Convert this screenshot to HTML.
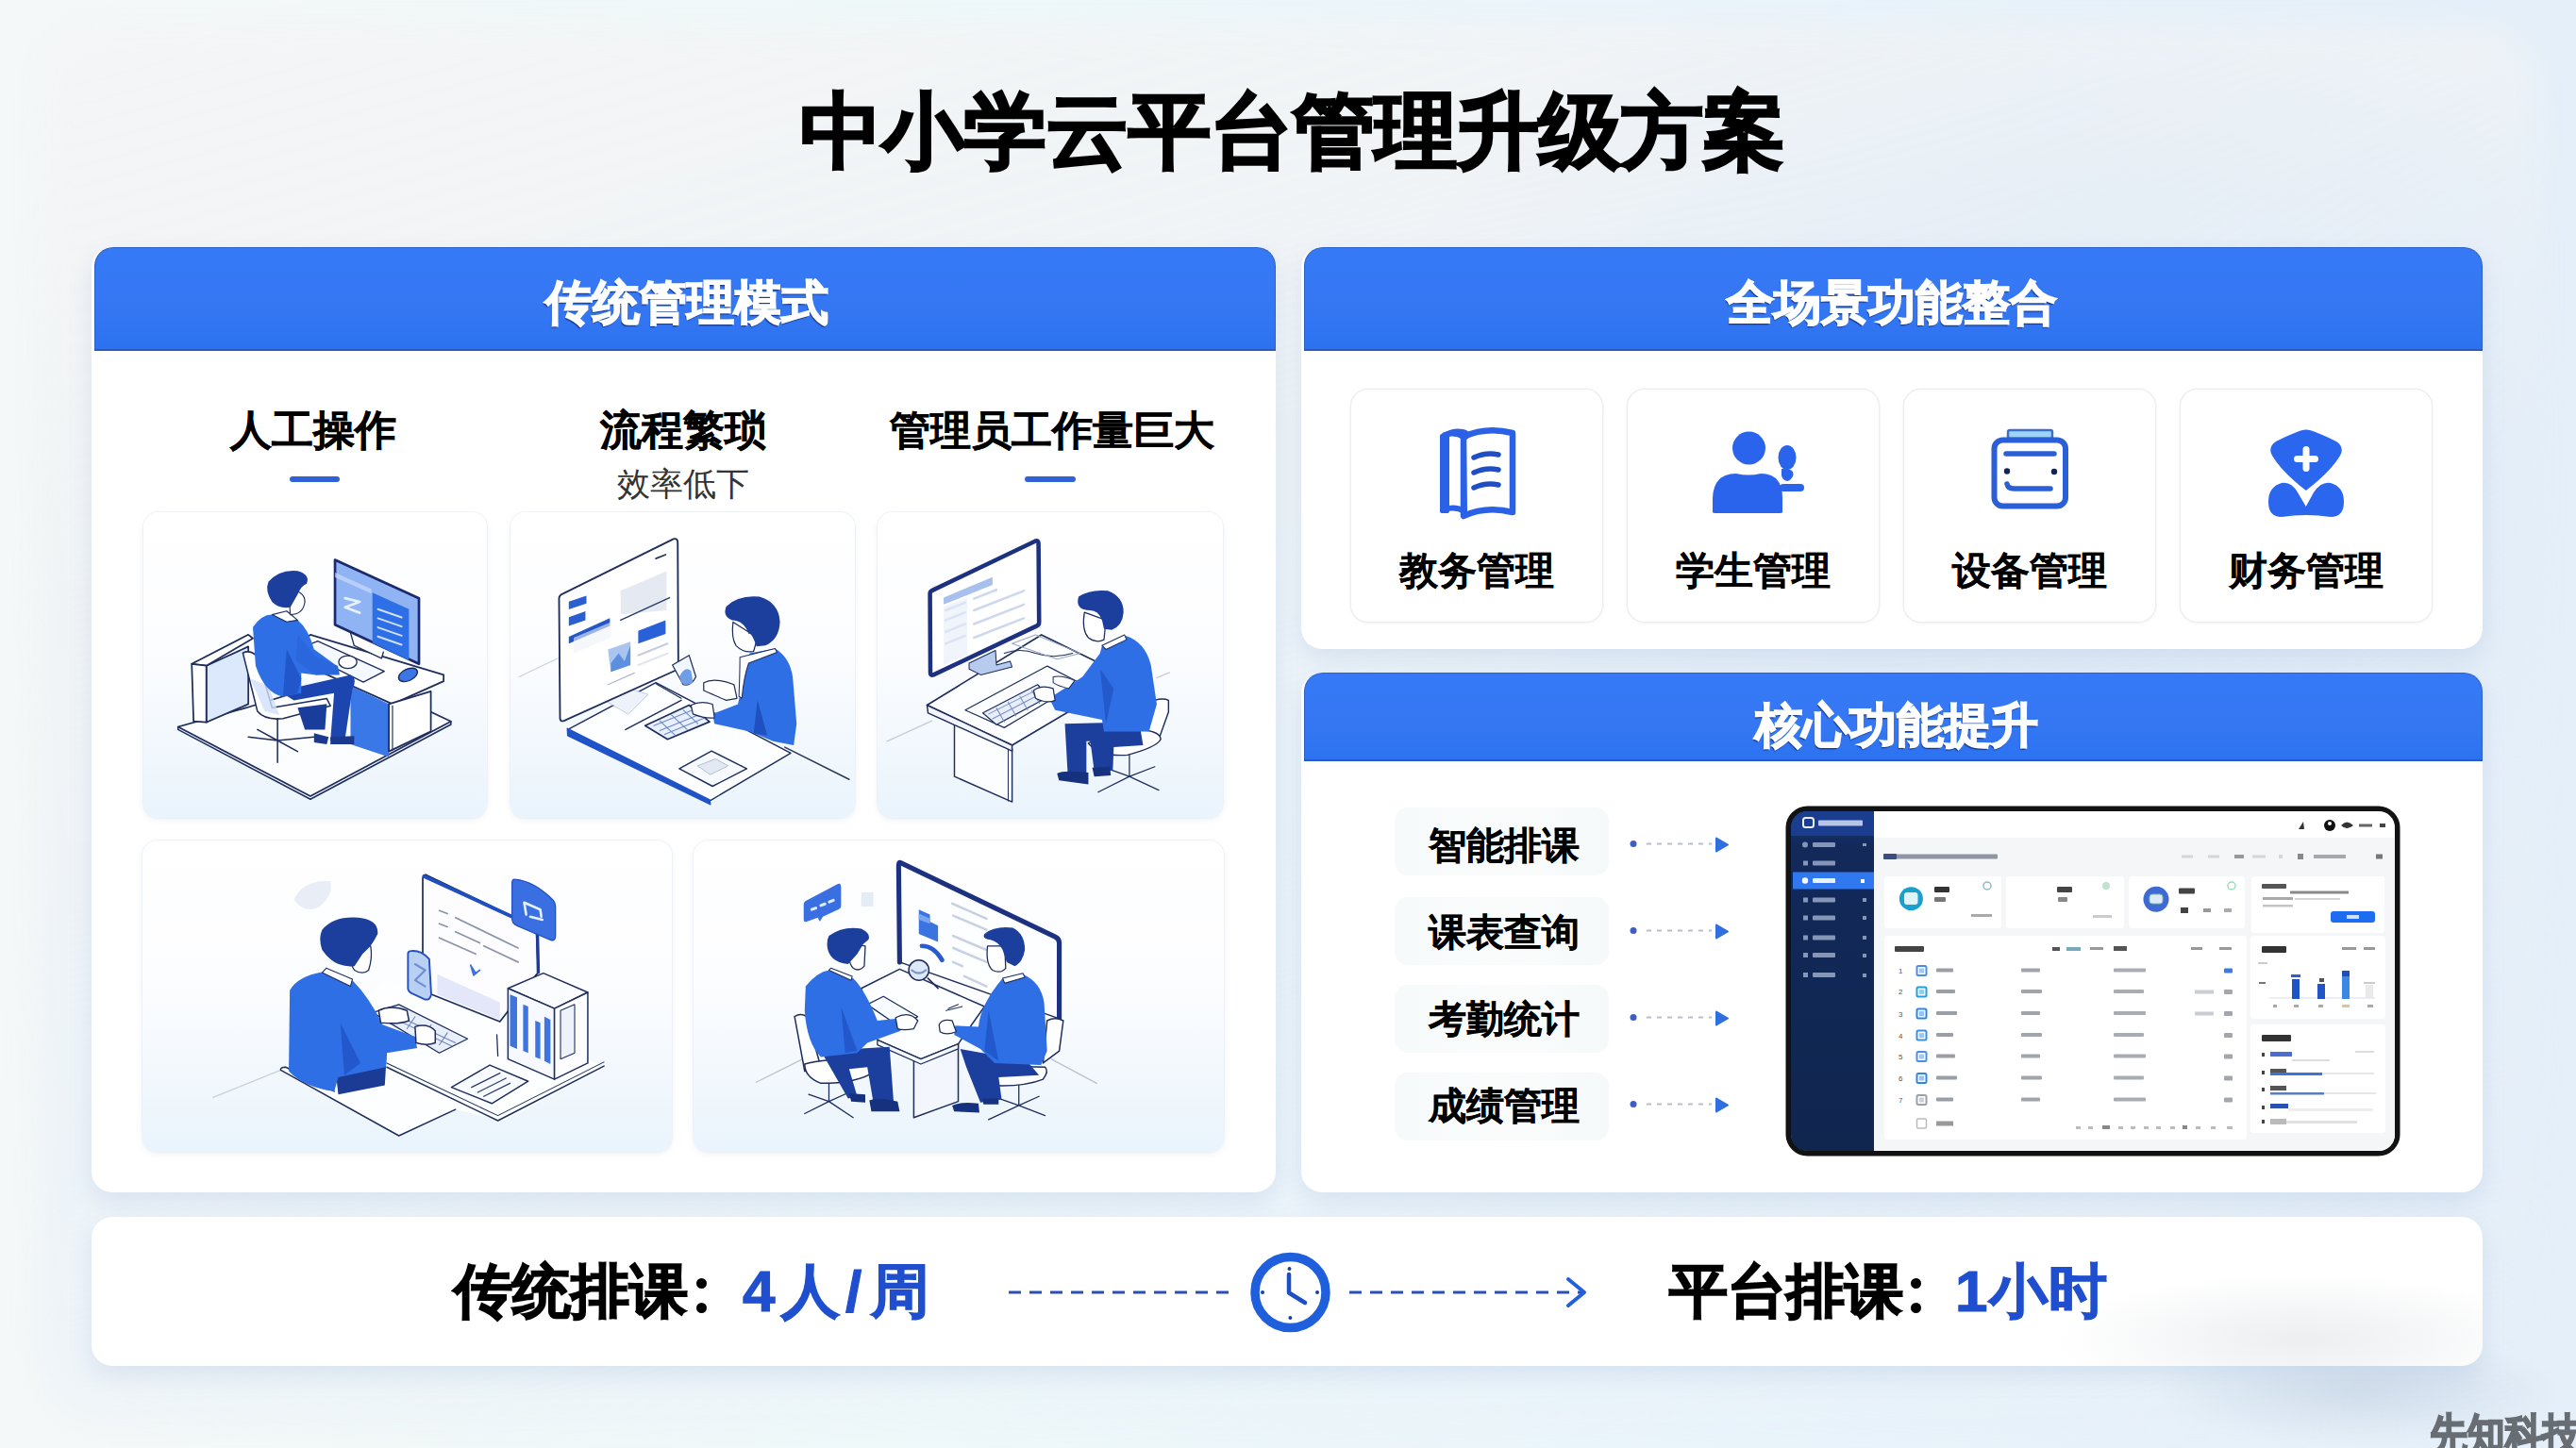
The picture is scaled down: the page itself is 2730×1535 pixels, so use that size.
<!DOCTYPE html>
<html><head><meta charset="utf-8">
<style>
*{margin:0;padding:0;box-sizing:border-box}
html,body{width:2730px;height:1535px;overflow:hidden}
body{position:relative;font-family:"Liberation Sans",sans-serif;
 background:linear-gradient(90deg,#f5f8f8 0%,#eef8fa 40%,#e9f3fa 70%,#e5eff9 100%);}
.slide{position:absolute;left:40px;top:26px;width:2652px;height:1484px;border-radius:70px;filter:blur(14px);
 background:
  radial-gradient(ellipse 1100px 800px at 2150px 450px, rgba(205,222,244,0.35), rgba(205,222,244,0) 70%),
  linear-gradient(165deg,rgba(244,245,246,1) 0%,rgba(240,243,245,0.9) 25%,rgba(232,240,248,0.6) 55%,rgba(229,238,248,0) 100%);}
.abs{position:absolute}
.panel{position:absolute;background:#fff;border-radius:22px;box-shadow:0 10px 24px rgba(120,150,200,0.18)}
.hdr{position:absolute;left:3px;right:0;top:0;border-radius:20px 20px 0 0;border:1.5px solid #2c62c8;border-bottom:2px solid #285cc0;
 background:linear-gradient(180deg,#3679f6 0%,#3577f3 60%,#2c72f0 100%);
 color:#fff;font-weight:700;text-align:center;-webkit-text-stroke:1.6px #fff;text-shadow:-1px 2px 1px rgba(15,35,100,0.75)}
.t{position:absolute;white-space:nowrap;line-height:1}
.card{position:absolute;border-radius:16px;background:linear-gradient(180deg,#ffffff 0%,#fcfdff 45%,#eaf4fc 100%);
 box-shadow:0 0 0 1px rgba(232,235,240,0.55), 0 2px 6px rgba(185,198,215,0.28)}
.fcard{position:absolute;border-radius:18px;background:#fff;box-shadow:0 0 0 1.5px rgba(236,237,240,0.95),0 2px 4px rgba(200,205,215,0.18)}
.pill{position:absolute;border-radius:14px;background:linear-gradient(90deg,#f7fafb,#fafcfc 60%,#f5f9fa)}
</style></head><body>

<div class="slide"></div>
<!-- title -->
<div class="t" style="left:5px;width:2730px;text-align:center;top:96px;font-size:86.8px;font-weight:700;color:#000;-webkit-text-stroke:2.6px #000">中小学云平台管理升级方案</div>

<!-- left panel -->
<div class="panel" style="left:97px;top:262px;width:1255px;height:1002px">
  <div class="hdr" style="height:110px;font-size:50px;line-height:116px;padding-left:3px">传统管理模式</div>
</div>

<!-- right top panel -->
<div class="panel" style="left:1379px;top:262px;width:1252px;height:426px">
  <div class="hdr" style="height:110px;font-size:50px;line-height:116px;padding-right:4px">全场景功能整合</div>
</div>

<!-- right bottom panel -->
<div class="panel" style="left:1379px;top:713px;width:1252px;height:551px">
  <div class="hdr" style="height:94px;font-size:50px;line-height:110px;padding-left:6px">核心功能提升</div>
</div>

<!-- bottom bar -->
<div class="abs" style="left:2280px;top:1420px;width:440px;height:110px;border-radius:50%;background:radial-gradient(ellipse at center, rgba(190,205,222,0.55), rgba(190,205,222,0) 70%);filter:blur(6px)"></div>
<div class="panel" style="left:97px;top:1290px;width:2534px;height:158px;background:radial-gradient(ellipse 260px 70px at 2440px 1420px, rgba(236,238,240,1), rgba(255,255,255,0) 100%) no-repeat, #fff;background-position:-97px -1290px, 0 0;background-size:2730px 1535px, auto"></div>


<!-- left panel content -->
<div class="t" style="left:232px;width:200px;text-align:center;top:434px;font-size:44px;font-weight:700;-webkit-text-stroke:0.4px #000">人工操作</div>
<div class="abs" style="left:307px;top:505px;width:53px;height:6px;border-radius:3px;background:#2f62d6"></div>
<div class="t" style="left:574px;width:300px;text-align:center;top:434px;font-size:44px;font-weight:700;-webkit-text-stroke:0.4px #000">流程繁琐</div>
<div class="t" style="left:574px;width:300px;text-align:center;top:495px;font-size:35px;color:#333">效率低下</div>
<div class="t" style="left:912px;width:400px;text-align:center;top:435px;font-size:43px;font-weight:700;-webkit-text-stroke:0.4px #000;padding-left:6px">管理员工作量巨大</div>
<div class="abs" style="left:1086px;top:505px;width:54px;height:6px;border-radius:3px;background:#2f62d6"></div>

<div class="card" style="left:152px;top:543px;width:364px;height:324px"></div>
<div class="card" style="left:541px;top:543px;width:365px;height:324px"></div>
<div class="card" style="left:930px;top:543px;width:366px;height:324px"></div>
<div class="card" style="left:151px;top:891px;width:561px;height:330px"></div>
<div class="card" style="left:735px;top:891px;width:562px;height:330px"></div>

<!-- right top cards -->
<div class="fcard" style="left:1432px;top:413px;width:266px;height:246px"></div>
<div class="fcard" style="left:1725px;top:413px;width:266px;height:246px"></div>
<div class="fcard" style="left:2018px;top:413px;width:266px;height:246px"></div>
<div class="fcard" style="left:2311px;top:413px;width:266px;height:246px"></div>
<div class="t" style="left:1432px;width:266px;text-align:center;top:585px;font-size:41px;font-weight:700;-webkit-text-stroke:0.1px #000">教务管理</div>
<div class="t" style="left:1725px;width:266px;text-align:center;top:585px;font-size:41px;font-weight:700;-webkit-text-stroke:0.1px #000">学生管理</div>
<div class="t" style="left:2018px;width:266px;text-align:center;top:585px;font-size:41px;font-weight:700;-webkit-text-stroke:0.1px #000">设备管理</div>
<div class="t" style="left:2311px;width:266px;text-align:center;top:585px;font-size:41px;font-weight:700;-webkit-text-stroke:0.1px #000">财务管理</div>

<!-- pills -->
<div class="pill" style="left:1478px;top:856px;width:227px;height:72px"></div>
<div class="pill" style="left:1478px;top:951px;width:227px;height:72px"></div>
<div class="pill" style="left:1478px;top:1044px;width:227px;height:72px"></div>
<div class="pill" style="left:1478px;top:1137px;width:227px;height:72px"></div>
<div class="t" style="left:1478px;width:227px;text-align:center;top:876px;font-size:40px;font-weight:700;-webkit-text-stroke:0.35px #000;padding-left:4px">智能排课</div>
<div class="t" style="left:1478px;width:227px;text-align:center;top:968px;font-size:40px;font-weight:700;-webkit-text-stroke:0.35px #000;padding-left:4px">课表查询</div>
<div class="t" style="left:1478px;width:227px;text-align:center;top:1060px;font-size:40px;font-weight:700;-webkit-text-stroke:0.35px #000;padding-left:4px">考勤统计</div>
<div class="t" style="left:1478px;width:227px;text-align:center;top:1152px;font-size:40px;font-weight:700;-webkit-text-stroke:0.35px #000;padding-left:4px">成绩管理</div>

<!-- bottom bar content -->
<div class="t" style="left:481px;top:1338px;font-size:62px;font-weight:700;-webkit-text-stroke:1.6px #000">传统排课</div>
<div class="abs" style="left:738px;top:1355px;width:11px;height:11px;border-radius:50%;background:#000"></div>
<div class="abs" style="left:738px;top:1381px;width:11px;height:11px;border-radius:50%;background:#000"></div>
<div class="t" id="g4" style="left:787px;top:1338px;font-size:62px;font-weight:700;color:#1f4fcf;-webkit-text-stroke:1.2px #1f4fcf">4</div>
<div class="t" id="gren" style="left:828px;top:1338px;font-size:62px;font-weight:700;color:#1f4fcf;-webkit-text-stroke:1.2px #1f4fcf">人</div>
<div class="t" id="gsl" style="left:896px;top:1338px;font-size:62px;font-weight:700;color:#1f4fcf;-webkit-text-stroke:1.2px #1f4fcf">/</div>
<div class="t" id="gzhou" style="left:923px;top:1338px;font-size:62px;font-weight:700;color:#1f4fcf;-webkit-text-stroke:1.2px #1f4fcf">周</div>
<div class="t" style="left:1769px;top:1338px;font-size:62px;font-weight:700;-webkit-text-stroke:1.6px #000">平台排课</div>
<div class="abs" style="left:2025px;top:1355px;width:11px;height:11px;border-radius:50%;background:#000"></div>
<div class="abs" style="left:2025px;top:1381px;width:11px;height:11px;border-radius:50%;background:#000"></div>
<div class="t" id="g1" style="left:2072px;top:1338px;font-size:62px;font-weight:700;color:#1f4fcf;-webkit-text-stroke:1.2px #1f4fcf">1</div>
<div class="t" id="gxiao" style="left:2108px;top:1338px;font-size:62px;font-weight:700;color:#1f4fcf;-webkit-text-stroke:1.2px #1f4fcf">小</div>
<div class="t" id="gshi" style="left:2171px;top:1338px;font-size:62px;font-weight:700;color:#1f4fcf;-webkit-text-stroke:1.2px #1f4fcf">时</div>
<div class="t" style="left:2575px;top:1497px;font-size:40px;font-weight:700;color:#676d73;-webkit-text-stroke:1.6px #676d73;transform:scaleY(1.18);transform-origin:0 0;letter-spacing:0px">先知科技</div>

<!-- clock + dashed lines -->
<svg class="abs" style="left:1050px;top:1310px" width="660" height="120" viewBox="1050 1310 660 120">
  <line x1="1069" y1="1370" x2="1302" y2="1370" stroke="#2b50b5" stroke-width="3.2" stroke-dasharray="13 9"/>
  <line x1="1430" y1="1370" x2="1676" y2="1370" stroke="#2b50b5" stroke-width="3.2" stroke-dasharray="13 9"/>
  <path d="M1662 1356 L1679 1370 L1662 1384" fill="none" stroke="#2160dd" stroke-width="4" stroke-linecap="round" stroke-linejoin="round"/>
  <circle cx="1367.5" cy="1370" r="37.5" fill="#fff" stroke="#1f5fdc" stroke-width="9.5"/>
  <path d="M1366 1351 L1366 1370.5 L1383 1381" fill="none" stroke="#1d4fc4" stroke-width="4.5" stroke-linecap="round" stroke-linejoin="round"/>
  <circle cx="1366.5" cy="1345" r="2" fill="#1b3f9a"/><circle cx="1367.4" cy="1397" r="2" fill="#1b3f9a"/>
  <circle cx="1338" cy="1370" r="2" fill="#1b3f9a"/><circle cx="1396" cy="1370" r="2" fill="#1b3f9a"/>
</svg>

<!-- pill arrows -->
<svg class="abs" style="left:1720px;top:870px" width="130" height="320" viewBox="1720 870 130 320">
  <g id="arr">
   <circle cx="1731" cy="894.5" r="3.5" fill="#3d5fc0"/>
   <line x1="1745" y1="894.5" x2="1814" y2="894.5" stroke="#b8bfcb" stroke-width="2" stroke-dasharray="5 6"/>
   <path d="M1819 888.5 L1831 895.5 L1819 902.5 Z" fill="#2f6fe0" stroke="#2f6fe0" stroke-width="2" stroke-linejoin="round"/>
  </g>
  <use href="#arr" y="92"/><use href="#arr" y="184"/><use href="#arr" y="276"/>
</svg>

<!-- feature icons -->
<svg class="abs" style="left:1400px;top:440px" width="1200" height="120" viewBox="1400 440 1200 120">
  <!-- book -->
  <g fill="none" stroke="#2a61e6" stroke-linejoin="round" stroke-linecap="round">
    <path d="M1531 462 Q1540 456 1550 458 Q1558 460 1552 464" stroke-width="6"/>
    <rect x="1526" y="460" width="10" height="84" fill="#2a61e6" stroke="none" rx="2"/>
    <path d="M1531 461 Q1542 457 1551 463 L1552 542 Q1542 536 1531 540" stroke-width="6"/>
    <path d="M1551 463 Q1575 452 1603 459 L1603 543 Q1575 536 1551 547 Z" stroke-width="6.5"/>
    <path d="M1562 485 Q1575 479 1588 482 M1562 501 Q1575 495 1588 498 M1562 517 Q1575 511 1588 514" stroke="#1f4fc7" stroke-width="5.5"/>
  </g>
  <!-- person -->
  <g fill="#2a63ec">
    <circle cx="1853.5" cy="475" r="17.5"/>
    <path d="M1815 543 L1815 528 Q1816 502 1840 502 Q1853 505 1866 502 Q1889 502 1889 528 L1889 543 Q1889 544 1886 544 L1818 544 Q1815 544 1815 543 Z"/>
    <ellipse cx="1894" cy="485" rx="9.5" ry="13"/>
    <path d="M1888 497 Q1903 496 1900 505 Q1897 510 1894 510 Q1889 509 1888 504 Z"/>
    <rect x="1886" y="513" width="26" height="8" rx="4"/>
  </g>
  <!-- device -->
  <g fill="none" stroke="#2a5fd8" stroke-linecap="round">
    <rect x="2128" y="456" width="47" height="9" fill="#9ed4f7" stroke="#3b6fd0" stroke-width="2.5" rx="2"/>
    <rect x="2113.5" y="466.5" width="75.5" height="70" rx="9" stroke-width="6"/>
    <line x1="2126" y1="481" x2="2177" y2="481" stroke-width="5.5"/>
    <path d="M2127 513 Q2128 518 2134 518 L2173 518" stroke-width="5.5"/>
    <circle cx="2127" cy="499.5" r="3.2" fill="#13245a" stroke="none"/>
    <circle cx="2177" cy="500" r="3.2" fill="#13245a" stroke="none"/>
  </g>
  <!-- finance -->
  <g fill="#2b66ee">
    <path d="M2443.8 455.5 Q2450 455 2476 468 Q2485 474 2480 483 Q2470 500 2443.8 520 Q2418 500 2408 483 Q2403 474 2412 468 Q2438 455 2443.8 455.5 Z"/>
    <path d="M2418 512 Q2428 510 2435 522 L2443.8 537 L2452 522 Q2460 510 2470 512 Q2484 516 2484 532 Q2484 548 2470 548 Q2443.8 544 2418 548 Q2404 548 2404 532 Q2404 516 2418 512 Z"/>
    <rect x="2440.5" y="473" width="7" height="27" rx="3.5" fill="#fff"/>
    <rect x="2431" y="483" width="26" height="7" rx="3.5" fill="#fff"/>
  </g>
</svg>

<!-- dashboard -->
<svg class="abs" style="left:1885px;top:848px" width="665" height="385" viewBox="1885 848 665 385">
 <defs>
  <clipPath id="scr"><rect x="1898" y="860" width="640" height="360" rx="17"/></clipPath>
  <linearGradient id="sbg" x1="0" y1="0" x2="0" y2="1"><stop offset="0" stop-color="#173777"/><stop offset="0.1" stop-color="#12295a"/><stop offset="1" stop-color="#10264f"/></linearGradient>
 </defs>
 <rect x="1895.5" y="857.5" width="645" height="365" rx="20" fill="#fff" stroke="#121212" stroke-width="6"/>
 <g clip-path="url(#scr)">
  <rect x="1898" y="860" width="88" height="362" fill="url(#sbg)"/>
  <rect x="1898" y="860" width="88" height="26" fill="#1a3d8e"/>
  <rect x="1911" y="867" width="11" height="10" rx="2.5" fill="none" stroke="#e8efff" stroke-width="2"/>
  <rect x="1927" y="869.5" width="47" height="6" rx="1" fill="#dfe8ff" opacity="0.8"/>
  <rect x="1900" y="924.5" width="86" height="18" fill="#2f78ef"/>
  <g fill="#aebbd8" opacity="0.75">
   <circle cx="1913" cy="895.5" r="3"/><rect x="1921" y="893" width="24" height="5" rx="1"/><rect x="1974" y="894" width="4" height="3"/>
   <rect x="1911" y="912.5" width="5" height="5"/><rect x="1921" y="912.5" width="24" height="5" rx="1"/>
   <rect x="1911" y="951.5" width="5" height="5"/><rect x="1921" y="951.5" width="24" height="5" rx="1"/><rect x="1974" y="952" width="4" height="4"/>
   <rect x="1911" y="970.5" width="5" height="5"/><rect x="1921" y="970.5" width="24" height="5" rx="1"/><rect x="1974" y="971" width="4" height="4"/>
   <rect x="1911" y="991.5" width="5" height="5"/><rect x="1921" y="991.5" width="24" height="5" rx="1"/><rect x="1974" y="992" width="4" height="4"/>
   <rect x="1911" y="1010" width="5" height="5"/><rect x="1921" y="1010" width="24" height="5" rx="1"/><rect x="1974" y="1011" width="4" height="4"/>
   <rect x="1911" y="1031" width="5" height="5"/><rect x="1921" y="1031" width="24" height="5" rx="1"/><rect x="1974" y="1032" width="4" height="4"/>
  </g>
  <g fill="#ffffff"><circle cx="1913" cy="933.5" r="3.2"/><rect x="1921" y="931" width="24" height="5" rx="1" opacity="0.9"/><rect x="1972" y="932" width="4" height="4"/></g>
  <!-- main -->
  <rect x="1986" y="860" width="555" height="362" fill="#ffffff"/>
  <rect x="1986" y="888" width="555" height="334" fill="#f5f6f8"/>
  <!-- top icons -->
  <path d="M2436 879 L2441 871 L2442 879 Z" fill="#333"/>
  <circle cx="2469" cy="875" r="6" fill="#111"/><circle cx="2469" cy="873" r="2" fill="#fff"/>
  <path d="M2481 875 Q2487 868 2494 875 Q2487 881 2481 875 Z" fill="#333"/>
  <rect x="2500" y="873.5" width="14" height="3" fill="#666"/><rect x="2522" y="873" width="6" height="4" fill="#444"/>
  <!-- breadcrumb -->
  <rect x="1996" y="905.5" width="121" height="5" rx="1" fill="#7d8594" opacity="0.85"/>
  <rect x="1996" y="905" width="14" height="6" rx="1" fill="#3b4e80"/>
  <g fill="#d3d6da"><rect x="2312" y="906.5" width="12" height="3"/><rect x="2340" y="906.5" width="12" height="3"/><rect x="2368" y="906" width="10" height="4" fill="#999"/><rect x="2387" y="906.5" width="14" height="3"/><rect x="2415" y="906" width="4" height="4"/><rect x="2435" y="905" width="6" height="6" fill="#888"/><rect x="2452" y="906" width="34" height="4" fill="#a5a8ad"/><rect x="2518" y="905.5" width="7" height="5" fill="#777"/></g>
  <!-- stat cards -->
  <rect x="1997" y="929" width="124" height="55" rx="3" fill="#fff"/>
  <rect x="2126" y="929" width="125" height="55" rx="3" fill="#fff"/>
  <rect x="2256" y="929" width="123" height="55" rx="3" fill="#fff"/>
  <rect x="2386" y="929" width="141" height="60" rx="3" fill="#fff"/>
  <circle cx="2025.4" cy="952.7" r="12.5" fill="#1aa0cf"/><rect x="2018" y="946" width="14.5" height="13" rx="3" fill="#dff3fb"/>
  <rect x="2050" y="940" width="16" height="6" rx="1" fill="#333"/><rect x="2050" y="951" width="12" height="5" rx="1" fill="#777"/>
  <rect x="2089" y="969" width="22" height="3" fill="#aaa"/><circle cx="2106" cy="939" r="4" fill="none" stroke="#8fb8c8" stroke-width="1.5"/>
  <rect x="2180" y="940" width="16" height="6" rx="1" fill="#444"/><rect x="2181" y="951" width="10" height="5" rx="1" fill="#888"/>
  <rect x="2218" y="970" width="20" height="3" fill="#ccc"/><circle cx="2232" cy="939" r="4" fill="#bfe3d0"/>
  <circle cx="2285" cy="953.3" r="13.5" fill="#3f69d3"/><rect x="2278" y="948" width="14" height="10" rx="3" fill="#dce9f8" stroke="#7fbf9f" stroke-width="1"/>
  <rect x="2309" y="941.5" width="17" height="6" rx="1" fill="#444"/>
  <rect x="2311" y="962" width="8" height="6" fill="#444"/><rect x="2335" y="963" width="8" height="4" fill="#999"/><rect x="2357" y="963" width="8" height="4" fill="#aaa"/>
  <circle cx="2365" cy="939" r="4" fill="none" stroke="#9db" stroke-width="1.5"/>
  <rect x="2397" y="937" width="26" height="5" rx="1" fill="#555"/>
  <rect x="2427" y="944.5" width="62" height="3" fill="#8a8a8a"/><rect x="2398" y="951" width="32" height="3" fill="#aaa"/><rect x="2432" y="952" width="48" height="2" fill="#d5d5d5"/><rect x="2398" y="959" width="32" height="2.5" fill="#c5c5c5"/>
  <rect x="2470" y="966" width="47" height="12" rx="3" fill="#1e6cf0"/><rect x="2487" y="970" width="13" height="4" fill="#cfe0ff"/>
  <!-- table -->
  <rect x="1997" y="992" width="384" height="216" rx="3" fill="#fff"/>
  <rect x="2008" y="1003" width="31" height="6" rx="1" fill="#444"/>
  <g fill="#999"><rect x="2175" y="1004" width="8" height="4" fill="#555"/><rect x="2190" y="1004" width="15" height="4" fill="#7ab"/><rect x="2215" y="1004" width="14" height="3"/><rect x="2240" y="1003" width="14" height="5" fill="#555"/><rect x="2322" y="1004" width="12" height="3"/><rect x="2352" y="1004" width="13" height="3"/></g>
  <text x="2012" y="1032" font-size="8" fill="#555">1</text><rect x="2031.5" y="1024" width="10" height="10" rx="1.5" fill="none" stroke="#4a8de8" stroke-width="2"/><rect x="2034" y="1026.5" width="5" height="5" fill="#4a8de8" opacity="0.5"/><rect x="2052" y="1026.5" width="18" height="4" rx="1" fill="#9a9ea6"/><rect x="2142" y="1026.5" width="20" height="4" rx="1" fill="#a0a4ab"/><rect x="2240" y="1026.5" width="34" height="4" rx="1" fill="#a9adb3"/><rect x="2357" y="1026.5" width="9" height="5" rx="1" fill="#3d7be0"/><text x="2012" y="1054.4" font-size="8" fill="#555">2</text><rect x="2031.5" y="1046.4" width="10" height="10" rx="1.5" fill="none" stroke="#1f9fe0" stroke-width="2"/><rect x="2034" y="1048.9" width="5" height="5" fill="#1f9fe0" opacity="0.5"/><rect x="2052" y="1048.9" width="20" height="4" rx="1" fill="#9a9ea6"/><rect x="2142" y="1048.9" width="22" height="4" rx="1" fill="#a0a4ab"/><rect x="2240" y="1048.9" width="32" height="4" rx="1" fill="#a9adb3"/><rect x="2357" y="1048.9" width="9" height="5" rx="1" fill="#a3a7ad"/><rect x="2326" y="1049.4" width="20" height="4" rx="1" fill="#c9ccd1"/><text x="2012" y="1077.6" font-size="8" fill="#555">3</text><rect x="2031.5" y="1069.6" width="10" height="10" rx="1.5" fill="none" stroke="#2d86e6" stroke-width="2"/><rect x="2034" y="1072.1" width="5" height="5" fill="#2d86e6" opacity="0.5"/><rect x="2052" y="1072.1" width="22" height="4" rx="1" fill="#9a9ea6"/><rect x="2142" y="1072.1" width="20" height="4" rx="1" fill="#a0a4ab"/><rect x="2240" y="1072.1" width="34" height="4" rx="1" fill="#a9adb3"/><rect x="2357" y="1072.1" width="9" height="5" rx="1" fill="#a3a7ad"/><rect x="2326" y="1072.6" width="20" height="4" rx="1" fill="#c9ccd1"/><text x="2012" y="1100.6" font-size="8" fill="#555">4</text><rect x="2031.5" y="1092.6" width="10" height="10" rx="1.5" fill="none" stroke="#3b8fe8" stroke-width="2"/><rect x="2034" y="1095.1" width="5" height="5" fill="#3b8fe8" opacity="0.5"/><rect x="2052" y="1095.1" width="18" height="4" rx="1" fill="#9a9ea6"/><rect x="2142" y="1095.1" width="22" height="4" rx="1" fill="#a0a4ab"/><rect x="2240" y="1095.1" width="32" height="4" rx="1" fill="#a9adb3"/><rect x="2357" y="1095.1" width="9" height="5" rx="1" fill="#a3a7ad"/><text x="2012" y="1123" font-size="8" fill="#555">5</text><rect x="2031.5" y="1115" width="10" height="10" rx="1.5" fill="none" stroke="#4a90ea" stroke-width="2"/><rect x="2034" y="1117.5" width="5" height="5" fill="#4a90ea" opacity="0.5"/><rect x="2052" y="1117.5" width="20" height="4" rx="1" fill="#9a9ea6"/><rect x="2142" y="1117.5" width="20" height="4" rx="1" fill="#a0a4ab"/><rect x="2240" y="1117.5" width="34" height="4" rx="1" fill="#a9adb3"/><rect x="2357" y="1117.5" width="9" height="5" rx="1" fill="#a3a7ad"/><text x="2012" y="1146" font-size="8" fill="#555">6</text><rect x="2031.5" y="1138" width="10" height="10" rx="1.5" fill="none" stroke="#2f86e4" stroke-width="2"/><rect x="2034" y="1140.5" width="5" height="5" fill="#2f86e4" opacity="0.5"/><rect x="2052" y="1140.5" width="22" height="4" rx="1" fill="#9a9ea6"/><rect x="2142" y="1140.5" width="22" height="4" rx="1" fill="#a0a4ab"/><rect x="2240" y="1140.5" width="32" height="4" rx="1" fill="#a9adb3"/><rect x="2357" y="1140.5" width="9" height="5" rx="1" fill="#a3a7ad"/><text x="2012" y="1169" font-size="8" fill="#555">7</text><rect x="2031.5" y="1161" width="10" height="10" rx="1.5" fill="none" stroke="#9aa0a8" stroke-width="2"/><rect x="2034" y="1163.5" width="5" height="5" fill="#9aa0a8" opacity="0.5"/><rect x="2052" y="1163.5" width="18" height="4" rx="1" fill="#9a9ea6"/><rect x="2142" y="1163.5" width="20" height="4" rx="1" fill="#a0a4ab"/><rect x="2240" y="1163.5" width="34" height="4" rx="1" fill="#a9adb3"/><rect x="2357" y="1163.5" width="9" height="5" rx="1" fill="#a3a7ad"/>
  <rect x="2031.5" y="1186" width="10" height="10" rx="1.5" fill="none" stroke="#bbb" stroke-width="1.5"/><rect x="2052" y="1188.5" width="18" height="5" fill="#999"/>
  <g fill="#bbb"><rect x="2200" y="1194" width="5" height="3"/><rect x="2213" y="1194" width="5" height="3"/><rect x="2228" y="1193" width="8" height="4" fill="#888"/><rect x="2245" y="1194" width="5" height="3"/><rect x="2258" y="1194" width="5" height="3"/><rect x="2272" y="1194" width="5" height="3"/><rect x="2285" y="1194" width="5" height="3"/><rect x="2300" y="1194" width="5" height="3"/><rect x="2313" y="1193" width="5" height="4" fill="#888"/><rect x="2327" y="1194" width="5" height="3"/><rect x="2343" y="1194" width="5" height="3"/><rect x="2360" y="1194" width="6" height="3"/></g>
  <!-- chart card -->
  <rect x="2385" y="992" width="143" height="88" rx="3" fill="#fff"/>
  <rect x="2397" y="1003" width="26" height="7" rx="1" fill="#333"/>
  <rect x="2482" y="1004" width="15" height="3" fill="#999"/><rect x="2505" y="1004" width="12" height="3" fill="#999"/>
  <rect x="2393" y="1020" width="10" height="2" fill="#ccc"/>
  <line x1="2405" y1="1058" x2="2517" y2="1058" stroke="#d8dde6" stroke-width="1.2"/>
  <rect x="2394" y="1041" width="7" height="2" fill="#777"/>
  <rect x="2429" y="1038" width="8" height="21" fill="#2052c7"/><rect x="2428" y="1033" width="10" height="3" fill="#2f5fcf"/>
  <rect x="2456" y="1043" width="8" height="16" fill="#2353c8"/><rect x="2458" y="1037" width="5" height="4" fill="#555"/>
  <rect x="2482" y="1029" width="8" height="30" fill="#3c86e6"/><rect x="2482" y="1029" width="8" height="6" fill="#1d4fba"/>
  <rect x="2507" y="1044" width="8" height="14" fill="#e8eaee"/><rect x="2505" y="1041" width="12" height="2" fill="#ccc"/>
  <g fill="#aaa"><rect x="2409" y="1065" width="4" height="3"/><rect x="2431" y="1065" width="5" height="3"/><rect x="2457" y="1065" width="5" height="3"/><rect x="2482" y="1065" width="8" height="3" fill="#cc9"/><rect x="2509" y="1065" width="6" height="3"/></g>
  <!-- list card -->
  <rect x="2385" y="1086" width="143" height="115" rx="3" fill="#fff"/>
  <rect x="2397" y="1097" width="31" height="7" rx="1" fill="#333"/>
  <g>
   <rect x="2397" y="1116" width="3" height="4" fill="#444"/><rect x="2406" y="1115" width="23" height="5" fill="#4a6fd0"/><rect x="2429" y="1123" width="40" height="2" fill="#ddd"/><rect x="2496" y="1114" width="20" height="2" fill="#ddd"/>
   <rect x="2397" y="1135" width="3" height="4" fill="#444"/><rect x="2406" y="1133" width="17" height="7" fill="#555"/><rect x="2406" y="1137" width="55" height="3" fill="#3d73d8"/><rect x="2461" y="1137" width="55" height="2" fill="#e6e6e6"/>
   <rect x="2397" y="1153" width="3" height="4" fill="#444"/><rect x="2406" y="1151" width="17" height="5" fill="#555"/><rect x="2406" y="1158" width="57" height="2.5" fill="#5a7fb8"/><rect x="2463" y="1158" width="55" height="2" fill="#e6e6e6"/>
   <rect x="2397" y="1172" width="3" height="4" fill="#444"/><rect x="2406" y="1170" width="19" height="5" fill="#2b50b0"/><rect x="2425" y="1175" width="90" height="3" fill="#eee"/>
   <rect x="2397" y="1187" width="3" height="4" fill="#444"/><rect x="2406" y="1186" width="17" height="6" fill="#bbb"/><rect x="2423" y="1188" width="75" height="3" fill="#e0e0e0"/>
  </g>
 </g>
</svg>

<!-- illustration 1 -->
<svg class="abs" style="left:152px;top:543px" width="364" height="324" viewBox="152 543 364 324">
<g transform="translate(180,580) scale(0.19342)" stroke-linejoin="round" stroke-linecap="round">
 <!-- floor -->
 <path d="M45 985 L45 1000 L770 1382 L1540 972 L1540 955" fill="#eef4fc" stroke="#1e2d5c" stroke-width="8"/>
 <path d="M45 985 L770 1365 L1540 955 L1000 700 L420 880 Z" fill="#fbfdff" stroke="#1e2d5c" stroke-width="9"/>
 <!-- partition -->
 <path d="M200 650 L430 545 L430 860 L200 960 Z" fill="#dce8fb" stroke="#1e2d5c" stroke-width="9"/>
 <path d="M120 640 L430 480 L455 500 L200 650 Z" fill="#fff" stroke="#1e2d5c" stroke-width="9"/>
 <path d="M120 640 L200 650 L200 960 L130 955 Z" fill="#fff" stroke="#1e2d5c" stroke-width="9"/>
 <!-- desk top -->
 <path d="M770 480 L1500 700 L1500 735 L1220 860 L640 600 Z" fill="#fff" stroke="#1e2d5c" stroke-width="9"/>
 <!-- under desk blue -->
 <path d="M990 760 L1200 860 L1200 1150 L990 1080 Z" fill="#3a78e8"/>
 <!-- pedestal -->
 <path d="M1200 860 L1430 790 L1430 1010 L1200 1120 Z" fill="#fff" stroke="#1e2d5c" stroke-width="9"/>
 <line x1="1220" y1="870" x2="1220" y2="1110" stroke="#1e2d5c" stroke-width="6"/>
 <!-- keyboard -->
 <path d="M810 515 L1175 680 L1060 740 L700 560 Z" fill="#f4f8ff" stroke="#1e2d5c" stroke-width="7"/>
 <!-- monitor stand -->
 <path d="M990 470 L1010 540 L1160 610 L1170 575" fill="#fff" stroke="#1e2d5c" stroke-width="7"/>
 <!-- monitor -->
 <path d="M905 70 L1365 280 L1365 640 L905 425 Z" fill="#8fb3f3" stroke="#1b2a6e" stroke-width="14"/>
 <path d="M1110 250 L1310 340 L1310 620 L1110 525 Z" fill="#2f6fe6"/>
 <path d="M905 140 L1105 230 L1105 255 L905 165 Z" fill="#c9dcff" opacity="0.7"/>
 <path d="M960 280 L1040 300 L960 330 L1040 360" fill="none" stroke="#e6f0ff" stroke-width="14"/>
 <g stroke="#cfe0ff" stroke-width="10"><line x1="1140" y1="340" x2="1270" y2="385"/><line x1="1140" y1="390" x2="1270" y2="435"/><line x1="1140" y1="440" x2="1270" y2="485"/><line x1="1140" y1="490" x2="1270" y2="535"/></g>
 <!-- mouse -->
 <ellipse cx="1305" cy="700" rx="55" ry="32" transform="rotate(-25 1305 700)" fill="#3b76e6" stroke="#1e2d5c" stroke-width="7"/>
 <!-- chair -->
 <path d="M400 580 Q440 560 480 600 L560 880 L860 830 L880 870 L620 940 Q520 950 480 900 Z" fill="#fff" stroke="#1e2d5c" stroke-width="8"/>
 <path d="M440 720 L520 900 L600 920 L540 760 Z" fill="#cfe0fb" opacity="0.8"/>
 <path d="M590 940 L590 1180 M430 1040 L590 1060 L790 1040 M480 1000 L590 1060 L700 1120" fill="none" stroke="#1e2d5c" stroke-width="8"/>
 <!-- legs -->
 <path d="M600 790 L990 700 Q1030 720 1000 780 L960 1050 L880 1060 L900 800 L680 840 Z" fill="#1d45b0"/>
 <path d="M700 880 L860 860 L850 1000 L740 1000 Z" fill="#1a3c9a"/>
 <path d="M880 1040 L1010 1035 L1010 1080 L880 1080 Z" fill="#1b3a8f"/>
 <path d="M790 1020 L870 1040 L860 1080 L790 1070 Z" fill="#1b3a8f"/>
 <!-- torso -->
 <path d="M455 440 Q500 370 560 370 L700 400 Q760 450 790 560 L900 640 L930 690 L800 700 L720 690 L720 800 L620 820 Q520 800 470 650 Z" fill="#2f6fe6"/>
 <path d="M640 560 L720 720 L700 800 L620 820 Z" fill="#2257cc"/>
 <!-- arm -->
 <path d="M700 480 L800 600 L920 650 L930 700 L800 700 L690 620 Z" fill="#2b67dc"/>
 <ellipse cx="975" cy="630" rx="50" ry="35" fill="#fff" stroke="#1e2d5c" stroke-width="7"/>
 <!-- collar / neck -->
 <path d="M560 370 L640 350 L700 400 L640 410 Z" fill="#fff" stroke="#1e2d5c" stroke-width="6"/>
 <path d="M650 230 Q740 240 740 300 Q730 370 660 370 Z" fill="#fff" stroke="#1e2d5c" stroke-width="6"/>
 <!-- hair -->
 <path d="M540 190 Q600 120 700 130 Q770 150 750 200 Q720 210 700 260 L660 330 Q600 340 560 300 Q520 240 540 190 Z" fill="#1c3f9e"/>
</g>
</svg>

<!-- illustration 2 -->
<svg class="abs" style="left:541px;top:543px" width="365" height="324" viewBox="541 543 365 324">
<g transform="translate(550,560) scale(0.2072)" stroke-linejoin="round" stroke-linecap="round">
 <line x1="0" y1="760" x2="200" y2="665" stroke="#c9d2de" stroke-width="6"/>
 <line x1="1360" y1="1120" x2="1689" y2="1285" stroke="#2a3658" stroke-width="7"/>
 <!-- desk -->
 <path d="M250 1030 L700 790 L1390 1150 L975 1395 Z" fill="#fdfeff" stroke="#1e2d5c" stroke-width="7"/>
 <path d="M248 1025 L975 1390 L978 1412 L250 1060 Z" fill="#1f53c7" stroke="#1f53c7" stroke-width="8"/>
 <line x1="545" y1="1030" x2="830" y2="880" stroke="#1e2d5c" stroke-width="7"/>
 <line x1="700" y1="795" x2="830" y2="870" stroke="#1e2d5c" stroke-width="6"/>
 <!-- keyboard -->
 <path d="M645 1010 L870 905 L975 990 L760 1080 Z" fill="#e8f0ff" stroke="#1e2d5c" stroke-width="8"/>
 <g stroke="#6d86c4" stroke-width="5"><line x1="690" y1="1010" x2="900" y2="925"/><line x1="720" y1="1035" x2="930" y2="950"/><line x1="745" y1="1055" x2="950" y2="970"/>
 <line x1="720" y1="985" x2="800" y2="1060"/><line x1="780" y1="955" x2="860" y2="1030"/><line x1="840" y1="930" x2="915" y2="1000"/></g>
 <!-- tablet -->
 <path d="M820 1230 L985 1140 L1165 1230 L990 1320 Z" fill="#f7faff" stroke="#1e2d5c" stroke-width="7"/>
 <path d="M915 1215 L1005 1180 L1070 1215 L980 1260 Z" fill="#e3e9f3" stroke="#a8b3c6" stroke-width="4"/>
 <!-- stand -->
 <path d="M440 880 L560 820 L660 850 L560 950 Z" fill="#eef3fb" stroke="#b8c4d8" stroke-width="4"/>
 <!-- monitor -->
 <path d="M225 335 L790 55 Q812 48 812 75 L815 700 Q815 722 795 730 L230 985 Q210 992 210 970 L205 360 Q205 343 225 335 Z" fill="#fff" stroke="#1e2d5c" stroke-width="9"/>
 <path d="M255 375 L345 345 L345 385 L255 415 Z" fill="#2a5fd0"/>
 <path d="M255 455 L340 425 L340 470 L255 500 Z" fill="#2a5fd0"/>
 <path d="M255 555 L465 460 L465 500 L255 590 Z" fill="#2456c8"/>
 <path d="M280 560 L470 480 L470 560 L280 640 Z" fill="#eef2f8" opacity="0.6"/>
 <path d="M520 320 L755 220 L755 420 L520 440 Z" fill="#e5eaf2"/>
 <line x1="520" y1="470" x2="770" y2="355" stroke="#2a3a6a" stroke-width="7"/>
 <path d="M610 525 L750 470 L750 540 L610 590 Z" fill="#2a60d8"/>
 <line x1="610" y1="650" x2="760" y2="590" stroke="#c6cde0" stroke-width="10"/>
 <line x1="610" y1="700" x2="760" y2="640" stroke="#e0e4ee" stroke-width="10"/>
 <path d="M455 620 L570 580 L570 700 L470 735 Z" fill="#a9c5ef"/>
 <path d="M470 690 L510 640 L540 680 L570 600 L570 700 L470 735 Z" fill="#5d8fe0"/>
 <line x1="455" y1="800" x2="590" y2="740" stroke="#b0b8c8" stroke-width="6"/>
 <line x1="700" y1="155" x2="750" y2="135" stroke="#2a3658" stroke-width="8"/>
 <!-- cup -->
 <path d="M785 700 L870 650 L905 760 Q880 810 840 800 Z" fill="#f1f6ff" stroke="#1e2d5c" stroke-width="6"/>
 <path d="M820 760 Q850 700 880 730 L890 790 Q860 810 830 790 Z" fill="#6f9de6"/>
 <!-- person -->
 <path d="M1180 640 L1310 615 Q1385 660 1400 760 L1420 1000 L1405 1110 L1300 1090 L1180 1040 L1000 1000 L990 950 L1120 900 L1150 760 Z" fill="#2f6fe6"/>
 <path d="M1220 880 L1270 1060 L1200 1050 Z" fill="#1f50c0"/>
 <path d="M1130 660 L1310 615 L1320 635 L1175 690 Q1150 760 1140 870 L1125 860 Q1130 740 1130 660 Z" fill="#fff" stroke="#1e2d5c" stroke-width="5"/>
 <path d="M945 790 Q1000 760 1100 800 L1115 870 L1060 880 Q990 850 945 830 Z" fill="#fff" stroke="#1e2d5c" stroke-width="6"/>
 <path d="M880 905 Q930 880 990 900 L1000 970 Q950 975 890 950 Z" fill="#fff" stroke="#1e2d5c" stroke-width="6"/>
 <path d="M1095 480 Q1085 560 1110 600 Q1150 640 1200 630 L1220 560 Z" fill="#fff" stroke="#1e2d5c" stroke-width="6"/>
 <path d="M1060 400 Q1120 340 1230 350 Q1330 380 1335 480 Q1330 570 1260 600 L1215 605 Q1190 530 1175 540 Q1150 470 1090 470 Q1040 450 1060 400 Z" fill="#1c3f9e"/>
</g>
</svg>

<!-- illustration 3 -->
<svg class="abs" style="left:930px;top:543px" width="366" height="324" viewBox="930 543 366 324">
<g transform="translate(940,560) scale(0.2072)" stroke-linejoin="round" stroke-linecap="round">
 <line x1="0" y1="1090" x2="230" y2="985" stroke="#c3ccd8" stroke-width="6"/>
 <line x1="1380" y1="765" x2="1445" y2="738" stroke="#c3ccd8" stroke-width="6"/>
 <!-- pedestal -->
 <path d="M345 1000 L640 1130 L640 1400 L345 1270 Z" fill="#fbfdff" stroke="#1e2d5c" stroke-width="7"/>
 <line x1="620" y1="1130" x2="620" y2="1395" stroke="#1e2d5c" stroke-width="5"/>
 <!-- desk top -->
 <path d="M205 905 L790 545 L1230 760 L640 1110 Z" fill="#fdfeff" stroke="#1e2d5c" stroke-width="8"/>
 <path d="M205 905 L640 1110 L640 1140 L210 945 Z" fill="#f2f6fc" stroke="#1e2d5c" stroke-width="7"/>
 <!-- keyboard -->
 <path d="M400 930 L820 705 L985 790 L600 1020 Z" fill="#fbfdff" stroke="#1e2d5c" stroke-width="6"/>
 <path d="M490 945 L770 800 L830 860 L560 1005 Z" fill="#e9effa" stroke="#1e2d5c" stroke-width="6"/>
 <g stroke="#7b8fc0" stroke-width="5"><line x1="520" y1="950" x2="790" y2="815"/><line x1="540" y1="975" x2="810" y2="835"/>
 <line x1="560" y1="920" x2="600" y2="990"/><line x1="620" y1="890" x2="660" y2="960"/><line x1="680" y1="860" x2="720" y2="930"/><line x1="740" y1="830" x2="780" y2="895"/></g>
 <!-- mouse pad / cable -->
 <path d="M600 640 Q680 610 760 640 Q850 670 950 640" fill="none" stroke="#1e2d5c" stroke-width="5"/>
 <path d="M760 545 L990 640 L870 670 L640 590 Z" fill="none" stroke="#9aa6bf" stroke-width="5"/>
 <!-- stand -->
 <path d="M420 690 L555 625 L560 700 L630 680 L640 710 L480 750 L420 720 Z" fill="#b7cbef" stroke="#1e2d5c" stroke-width="5"/>
 <!-- monitor -->
 <path d="M232 318 L760 65 Q775 60 775 78 L778 480 Q778 495 765 500 L238 750 Q222 755 222 740 L220 335 Q220 323 232 318 Z" fill="#fff" stroke="#1c3280" stroke-width="22"/>
 <path d="M290 355 L540 250 L540 290 L290 390 Z" fill="#a8c0ee"/>
 <g stroke="#cdd8ee" stroke-width="12"><line x1="300" y1="420" x2="400" y2="380"/><line x1="300" y1="470" x2="400" y2="430"/><line x1="300" y1="530" x2="400" y2="490"/><line x1="300" y1="590" x2="400" y2="550"/>
 <line x1="445" y1="360" x2="560" y2="315"/><line x1="445" y1="420" x2="700" y2="320"/><line x1="445" y1="490" x2="700" y2="390"/><line x1="445" y1="560" x2="700" y2="460"/></g>
 <path d="M290 400 L410 355 L410 650 L290 700 Z" fill="#e6edf9" opacity="0.6"/>
 <!-- chair -->
 <path d="M1320 900 Q1400 860 1440 880 L1440 940 L1390 1080 L1300 1080 Z" fill="#fff" stroke="#1e2d5c" stroke-width="7"/>
 <path d="M1030 1100 Q1100 1060 1300 1030 Q1400 1040 1400 1080 Q1380 1120 1230 1160 Q1090 1170 1030 1100 Z" fill="#fff" stroke="#1e2d5c" stroke-width="7"/>
 <path d="M1240 1160 L1240 1270 M1080 1350 L1240 1270 L1390 1340 M1240 1270 L1370 1220 M1240 1270 L1130 1230" fill="none" stroke="#1e2d5c" stroke-width="6"/>
 <!-- pants -->
 <path d="M910 1000 L1290 990 L1310 1110 L1160 1120 L1155 1240 L1060 1240 L1040 1090 L1020 1090 L1020 1260 L925 1265 Z" fill="#1c3f9e"/>
 <path d="M870 1255 Q900 1235 1030 1250 L1030 1310 L880 1290 Z" fill="#16327e"/>
 <path d="M1050 1225 L1140 1220 L1145 1265 L1060 1270 Z" fill="#16327e"/>
 <!-- torso -->
 <path d="M1100 600 L1220 550 Q1320 580 1350 700 L1380 900 L1340 1040 L1110 1040 L1100 980 L860 930 L830 870 L1000 760 L1090 640 Z" fill="#2f6fe6"/>
 <path d="M1090 720 L1160 820 L1120 1000 Z" fill="#2459cc"/>
 <path d="M1100 600 L1215 545 L1225 570 L1120 620 Z" fill="#fff" stroke="#1e2d5c" stroke-width="5"/>
 <path d="M750 830 Q790 800 850 820 L860 880 Q820 900 760 870 Z" fill="#fff" stroke="#1e2d5c" stroke-width="6"/>
 <path d="M850 760 Q900 750 960 780 L930 820 Q880 810 850 790 Z" fill="#fff" stroke="#1e2d5c" stroke-width="5"/>
 <path d="M1010 430 Q995 520 1030 560 Q1070 590 1110 570 L1120 470 Z" fill="#fff" stroke="#1e2d5c" stroke-width="6"/>
 <path d="M980 350 Q1040 310 1130 320 Q1210 350 1210 430 Q1205 500 1150 520 L1110 515 L1100 470 Q1080 420 1040 420 Q960 420 980 350 Z" fill="#1c3f9e"/>
</g>
</svg>

<!-- illustration 4 -->
<svg class="abs" style="left:151px;top:891px" width="561" height="330" viewBox="151 891 561 330">
<g transform="translate(290,900) scale(0.2141)" stroke-linejoin="round" stroke-linecap="round">
 <path d="M100 250 Q150 150 280 160 Q300 230 220 290 Q150 320 100 250 Z" fill="#e3e9f2" opacity="0.8"/>
 <line x1="-300" y1="1230" x2="35" y2="1095" stroke="#c8d0dc" stroke-width="6"/>
 <!-- desk/floor -->
 <path d="M35 1095 L620 1420 L900 1290 L1140 1345 L1635 1080 L1120 830 L560 650 Z" fill="#fcfeff" stroke="none"/>
 <path d="M35 1095 Q30 1080 60 1080 L300 1200 M35 1095 L620 1420 L900 1290" fill="none" stroke="#1e2d5c" stroke-width="7"/>
 <path d="M560 1080 L1110 1345 L1635 1075" fill="none" stroke="#1e2d5c" stroke-width="7"/>
 <path d="M560 1060 L1110 1320 L1635 1055" fill="none" stroke="#1e2d5c" stroke-width="5"/>
 <!-- paper -->
 <path d="M880 1180 L1070 1070 L1260 1150 L1080 1260 Z" fill="#f8fbff" stroke="#1e2d5c" stroke-width="7"/>
 <g stroke="#2a3a6a" stroke-width="6"><line x1="980" y1="1180" x2="1120" y2="1110"/><line x1="1010" y1="1205" x2="1150" y2="1135"/><line x1="1040" y1="1225" x2="1170" y2="1160"/></g>
 <!-- monitor -->
 <path d="M755 128 L1300 390 L1310 610 L1120 855 L745 705 Q738 700 738 690 L738 145 Q740 125 755 128 Z" fill="#fdfdff" stroke="#1e2d5c" stroke-width="8"/>
 <line x1="745" y1="135" x2="1180" y2="335" stroke="#1f4fc0" stroke-width="18"/>
 <line x1="1305" y1="395" x2="1310" y2="610" stroke="#1f3a9a" stroke-width="16"/>
 <path d="M810 620 L1120 760 L1120 845 L810 720 Z" fill="#e4e6fa"/>
 <g stroke="#8b93a8" stroke-width="8"><line x1="820" y1="305" x2="860" y2="320"/><line x1="900" y1="340" x2="1210" y2="490"/><line x1="820" y1="370" x2="860" y2="385"/><line x1="900" y1="410" x2="1020" y2="465"/><line x1="820" y1="440" x2="1000" y2="520"/><line x1="1040" y1="480" x2="1210" y2="560"/></g>
 <path d="M975 575 L1000 615 L1020 600 L990 625 Z" fill="#3f6fd8" stroke="#3f6fd8" stroke-width="8"/>
 <!-- tag -->
 <path d="M1195 150 Q1290 160 1380 250 Q1395 265 1395 290 L1395 430 Q1395 460 1370 450 L1205 380 Q1180 370 1180 345 L1180 170 Q1180 148 1195 150 Z" fill="#3a6fe2" stroke="#2650c0" stroke-width="6"/>
 <path d="M1240 265 L1320 300 L1325 335 M1240 265 L1250 325 M1270 335 L1330 350" fill="none" stroke="#e6f0ff" stroke-width="12"/>
 <!-- phone -->
 <path d="M680 505 Q730 500 770 545 L780 720 Q775 750 750 745 L685 715 Q665 705 665 690 L665 520 Q665 505 680 505 Z" fill="#b9d0f5" stroke="#2650c0" stroke-width="9"/>
 <path d="M700 570 L750 600 L700 650 L750 680" fill="none" stroke="#6f8fd0" stroke-width="10"/>
 <!-- cabinet -->
 <path d="M1160 690 L1335 615 L1555 710 L1390 790 Z" fill="#fbfcff" stroke="#1e2d5c" stroke-width="7"/>
 <path d="M1160 690 L1390 790 L1390 1140 L1160 1040 Z" fill="#f6f9ff" stroke="#1e2d5c" stroke-width="7"/>
 <path d="M1390 790 L1555 710 L1555 1060 L1390 1140 Z" fill="#fdfdff" stroke="#1e2d5c" stroke-width="7"/>
 <path d="M1420 800 L1490 770 L1490 1010 L1420 1040 Z" fill="#eef2fa" stroke="#1e2d5c" stroke-width="5"/>
 <g fill="#3d74e0"><path d="M1170 720 L1205 735 L1205 990 L1170 975 Z"/><path d="M1235 770 L1260 780 L1260 1010 L1235 1000 Z"/><path d="M1295 850 L1320 860 L1320 1040 L1295 1030 Z"/><path d="M1340 830 L1370 845 L1370 1065 L1340 1050 Z"/></g>
 <line x1="1105" y1="920" x2="1110" y2="1025" stroke="#1e2d5c" stroke-width="6"/>
 <!-- keyboard -->
 <path d="M490 810 L620 770 L960 940 L820 1010 Z" fill="#e8effa" stroke="#1e2d5c" stroke-width="6"/>
 <g stroke="#6e84b8" stroke-width="5"><line x1="600" y1="820" x2="900" y2="960"/><line x1="640" y1="860" x2="880" y2="975"/><line x1="700" y1="830" x2="660" y2="890"/><line x1="780" y1="870" x2="740" y2="930"/><line x1="860" y1="910" x2="820" y2="970"/></g>
 <!-- person -->
 <path d="M300 1040 L560 1010 L550 1170 L320 1215 Z" fill="#1b3b94"/>
 <path d="M80 700 Q120 630 240 610 L390 650 Q470 730 540 870 L700 930 L710 985 L560 1010 L555 1080 L320 1130 L300 1200 Q150 1180 75 1100 Z" fill="#2f6fe6"/>
 <path d="M330 860 L430 1060 L350 1120 Z" fill="#2358cc"/>
 <path d="M240 612 L260 590 L390 645 L380 680 Z" fill="#fff" stroke="#1e2d5c" stroke-width="5"/>
 <path d="M520 800 Q580 770 660 800 L670 850 Q620 870 530 860 Z" fill="#fff" stroke="#1e2d5c" stroke-width="7"/>
 <path d="M700 880 Q760 860 800 900 L800 960 Q760 975 705 960 Z" fill="#fff" stroke="#1e2d5c" stroke-width="7"/>
 <path d="M385 480 Q370 560 400 600 Q440 625 470 600 Q490 540 480 480 Z" fill="#fff" stroke="#1e2d5c" stroke-width="6"/>
 <path d="M240 400 Q300 330 420 340 Q520 350 515 420 Q490 470 470 490 L440 520 L400 580 Q300 590 240 500 Q220 440 240 400 Z" fill="#1c3f9e"/>
</g>
</svg>

<!-- illustration 5 -->
<svg class="abs" style="left:735px;top:891px" width="562" height="330" viewBox="735 891 562 330">
<g transform="translate(780,900) scale(0.2141)" stroke-linejoin="round" stroke-linecap="round">
 <line x1="100" y1="1155" x2="340" y2="1035" stroke="#b9c2cf" stroke-width="6"/>
 <line x1="1560" y1="1040" x2="1785" y2="1160" stroke="#b9c2cf" stroke-width="6"/>
 <!-- chat bubble -->
 <path d="M350 255 L500 175 Q520 165 520 190 L520 280 Q520 295 505 300 L430 335 L415 360 L405 340 L350 360 Q335 365 335 350 L335 275 Q335 262 350 255 Z" fill="#3a6fe2"/>
 <g stroke="#e0ebff" stroke-width="14"><line x1="375" y1="300" x2="395" y2="292"/><line x1="420" y1="280" x2="440" y2="272"/><line x1="462" y1="262" x2="482" y2="254"/></g>
 <rect x="620" y="215" width="60" height="70" fill="#e6ecf5"/>
 <!-- monitor -->
 <path d="M815 68 L1580 435 Q1600 445 1600 465 L1600 840 L810 560 L805 85 Q805 62 815 68 Z" fill="#fdfeff" stroke="#1e2d5c" stroke-width="7"/>
 <path d="M810 560 L805 85 Q805 62 815 68 L1580 435 Q1600 445 1600 465 L1600 840" fill="none" stroke="#1c3280" stroke-width="24"/>
 <path d="M905 300 L960 325 L960 360 L1000 380 L1000 460 L905 420 Z" fill="#3a74e0"/>
 <path d="M905 320 L960 345 L960 370 L905 350 Z" fill="#7aa5ee"/>
 <path d="M920 480 Q980 480 1020 550" fill="none" stroke="#2a5ad0" stroke-width="22"/>
 <g stroke="#c8d0e2" stroke-width="12"><line x1="1070" y1="270" x2="1240" y2="345"/><line x1="1075" y1="330" x2="1240" y2="400"/><line x1="1075" y1="430" x2="1240" y2="500"/><line x1="1075" y1="490" x2="1240" y2="560"/><line x1="1075" y1="560" x2="1120" y2="580"/><line x1="1130" y1="630" x2="1240" y2="680"/></g>
 <!-- desk -->
 <path d="M880 1040 L1100 960 L1100 1250 L880 1330 Z" fill="#f3f6fc" stroke="#1e2d5c" stroke-width="7"/>
 <path d="M620 690 L810 595 L1230 780 L1100 965 L915 1040 L700 945 Z" fill="#fdfeff" stroke="#1e2d5c" stroke-width="7"/>
 <path d="M700 945 L915 1040 L1100 965 L1100 990 L915 1065 L700 970 Z" fill="#f5f8fd" stroke="#1e2d5c" stroke-width="6"/>
 <path d="M650 770 L730 730 L900 830 L810 880 Z" fill="#f8fbff" stroke="#1e2d5c" stroke-width="6"/>
 <path d="M1050 790 L1100 770 M1040 800 Q1080 790 1120 780" fill="none" stroke="#1e2d5c" stroke-width="5"/>
 <!-- magnifier -->
 <circle cx="905" cy="600" r="50" fill="#dde8f8" stroke="#1e2d5c" stroke-width="7"/>
 <path d="M870 600 Q905 630 940 600" fill="none" stroke="#7a95c8" stroke-width="10"/>
 <line x1="950" y1="640" x2="1000" y2="690" stroke="#1e2d5c" stroke-width="8"/>
 <!-- left chair -->
 <path d="M290 830 Q320 810 350 830 L420 1080 L340 1100 Z" fill="#fff" stroke="#1e2d5c" stroke-width="7"/>
 <path d="M340 1065 Q420 1040 700 1030 L690 1100 Q600 1160 420 1160 Q340 1130 340 1065 Z" fill="#fff" stroke="#1e2d5c" stroke-width="7"/>
 <path d="M460 1160 L460 1250 M340 1310 L460 1250 L580 1330 M460 1250 L360 1215 M460 1250 L560 1205" fill="none" stroke="#1e2d5c" stroke-width="6"/>
 <!-- left person -->
 <path d="M420 1000 L760 980 L780 1250 L680 1255 L650 1080 L560 1090 L600 1225 L555 1235 Z" fill="#1c3f9e"/>
 <path d="M660 1245 Q700 1225 800 1250 L810 1300 L670 1300 Z" fill="#16327e"/>
 <path d="M560 1210 L640 1215 L640 1255 L570 1250 Z" fill="#16327e"/>
 <path d="M345 680 Q400 610 460 600 L580 640 Q640 700 700 850 L800 840 L815 900 L650 960 L600 1010 L420 1030 Q350 960 340 800 Z" fill="#2f6fe6"/>
 <path d="M520 780 L600 1000 L540 1010 Z" fill="#2358cc"/>
 <path d="M460 600 L470 590 L575 630 L570 650 Z" fill="#fff" stroke="#1e2d5c" stroke-width="5"/>
 <path d="M790 835 Q860 800 900 850 L880 890 Q830 900 800 890 Z" fill="#fff" stroke="#1e2d5c" stroke-width="6"/>
 <path d="M560 470 Q550 560 580 590 Q610 610 635 580 L640 480 Z" fill="#fff" stroke="#1e2d5c" stroke-width="6"/>
 <path d="M460 430 Q530 380 620 395 Q670 420 655 450 L630 470 L600 520 L555 570 Q470 560 455 500 Q445 460 460 430 Z" fill="#1c3f9e"/>
 <!-- right chair -->
 <path d="M1540 850 Q1580 830 1620 850 L1600 1000 L1520 1060 Z" fill="#fff" stroke="#1e2d5c" stroke-width="7"/>
 <path d="M1200 1100 Q1300 1070 1530 1080 Q1550 1100 1520 1140 Q1420 1180 1250 1170 Q1190 1140 1200 1100 Z" fill="#fff" stroke="#1e2d5c" stroke-width="7"/>
 <path d="M1400 1170 L1400 1270 M1250 1340 L1400 1270 L1530 1320 M1400 1270 L1500 1225 M1400 1270 L1300 1235" fill="none" stroke="#1e2d5c" stroke-width="6"/>
 <!-- right person -->
 <path d="M1110 990 L1440 1050 L1500 1120 L1300 1130 L1315 1240 L1210 1255 L1140 1080 Z" fill="#1c3f9e"/>
 <path d="M1070 1270 Q1110 1250 1200 1260 L1205 1305 L1080 1300 Z" fill="#16327e"/>
 <path d="M1220 1235 L1300 1235 L1300 1265 L1225 1265 Z" fill="#16327e"/>
 <path d="M1320 640 L1420 620 Q1510 660 1525 760 L1540 1000 L1510 1070 L1280 1060 L1210 990 L1080 920 L1085 875 L1200 880 Q1210 770 1320 640 Z" fill="#2f6fe6"/>
 <path d="M1250 800 L1300 1050 L1230 1000 Z" fill="#2358cc"/>
 <path d="M1320 640 L1420 615 L1430 635 L1330 665 Z" fill="#fff" stroke="#1e2d5c" stroke-width="5"/>
 <path d="M1005 870 Q1020 840 1070 850 L1090 905 Q1040 925 1010 905 Z" fill="#fff" stroke="#1e2d5c" stroke-width="6"/>
 <path d="M1245 480 Q1235 570 1270 600 Q1310 620 1335 590 L1330 480 Z" fill="#fff" stroke="#1e2d5c" stroke-width="6"/>
 <path d="M1230 420 Q1280 380 1370 390 Q1430 420 1430 500 Q1420 560 1380 580 L1340 560 L1320 500 Q1300 460 1260 450 Q1215 445 1230 420 Z" fill="#1c3f9e"/>
</g>
</svg>
</body></html>
